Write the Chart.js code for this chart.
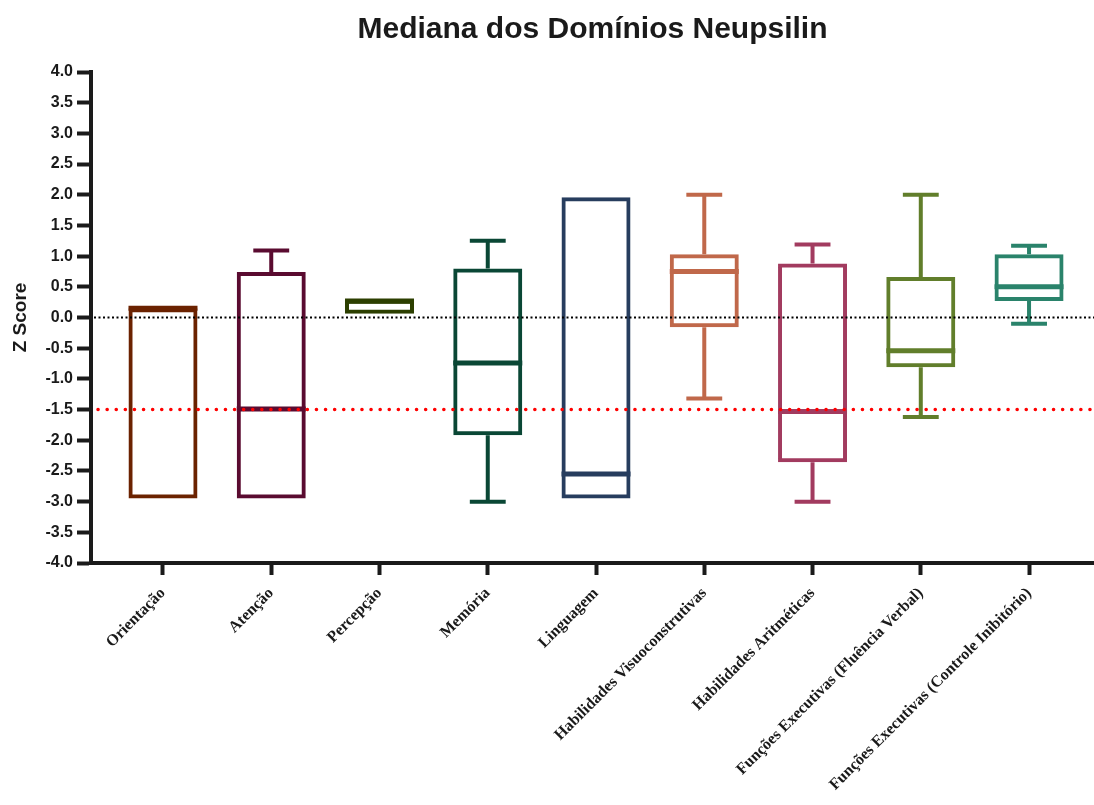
<!DOCTYPE html>
<html>
<head>
<meta charset="utf-8">
<script src="https://cdn.jsdelivr.net/npm/chart.js@4"></script>
<style>
  html, body { margin: 0; padding: 0; background: #fff; }
  #wrap { width: 1094px; height: 805px; }
</style>
</head>
<body>
<div id="wrap"><canvas id="chart" width="1094" height="805"></canvas></div>
<script>
// domains (x categories)
var categories = [
  "Orientação", "Atenção", "Percepção", "Memória", "Linguagem",
  "Habilidades Visuoconstrutivas", "Habilidades Aritméticas",
  "Funções Executivas (Fluência Verbal)", "Funções Executivas (Controle Inibitório)"
];

// box plot values (z scores)
var minVals = [-2.95, -2.95, 0.06, -3.00, -2.95, -1.32, -3.00, -1.62, -0.10];
var q1Vals  = [-2.95, -2.95, 0.06, -1.92, -2.95, -0.16, -2.36, -0.81,  0.27];
var medVals = [ 0.15, -1.49, 0.27, -0.74, -2.55,  0.75, -1.53, -0.54,  0.50];
var q3Vals  = [ 0.15,  0.74, 0.29,  0.80,  1.96,  1.03,  0.88,  0.66,  1.03];
var maxVals = [ 0.15,  1.09, 0.29,  1.25,  1.96,  2.00,  1.19,  2.00,  1.17];

// reference lines
var zeroLine = 0;
var cutLine = -1.5;

var boxColors = ["#6b2200", "#5a0b30", "#2c3f00", "#0a4735", "#273d5e",
                 "#c0684a", "#a23b5f", "#617e2b", "#2a836b"];

var boxData = categories.map(function (c, i) {
  return { x: i, y: [q1Vals[i], q3Vals[i]] };
});

// whiskers, medians and dotted reference lines
var boxPlotExtras = {
  id: "boxPlotExtras",
  afterDatasetsDraw: function (chart) {
    var ctx = chart.ctx;
    var xs = chart.scales.x, ys = chart.scales.y;
    var bars = chart.getDatasetMeta(0).data;
    ctx.save();
    ctx.lineCap = "butt";
    categories.forEach(function (c, i) {
      var cx = xs.getPixelForValue(i);
      var half = bars[i].width / 2;
      var cap = half * 0.52;
      ctx.strokeStyle = boxColors[i];
      ctx.lineWidth = 4;
      // upper whisker
      if (maxVals[i] > q3Vals[i]) {
        ctx.beginPath();
        ctx.moveTo(cx, ys.getPixelForValue(q3Vals[i]));
        ctx.lineTo(cx, ys.getPixelForValue(maxVals[i]));
        ctx.moveTo(cx - cap, ys.getPixelForValue(maxVals[i]));
        ctx.lineTo(cx + cap, ys.getPixelForValue(maxVals[i]));
        ctx.stroke();
      }
      // lower whisker
      if (minVals[i] < q1Vals[i]) {
        ctx.beginPath();
        ctx.moveTo(cx, ys.getPixelForValue(q1Vals[i]));
        ctx.lineTo(cx, ys.getPixelForValue(minVals[i]));
        ctx.moveTo(cx - cap, ys.getPixelForValue(minVals[i]));
        ctx.lineTo(cx + cap, ys.getPixelForValue(minVals[i]));
        ctx.stroke();
      }
      // median
      ctx.lineWidth = 5;
      ctx.beginPath();
      ctx.moveTo(cx - half, ys.getPixelForValue(medVals[i]));
      ctx.lineTo(cx + half, ys.getPixelForValue(medVals[i]));
      ctx.stroke();
    });

    var area = chart.chartArea;
    // zero line, black dotted
    ctx.strokeStyle = "#000";
    ctx.lineWidth = 2;
    ctx.setLineDash([2, 2.5]);
    ctx.beginPath();
    ctx.moveTo(area.left + 3, ys.getPixelForValue(zeroLine));
    ctx.lineTo(area.right, ys.getPixelForValue(zeroLine));
    ctx.stroke();
    // cut-off line, red dotted
    ctx.strokeStyle = "#ff0000";
    ctx.lineWidth = 3.5;
    ctx.lineCap = "round";
    ctx.setLineDash([0.1, 9]);
    ctx.beginPath();
    ctx.moveTo(area.left + 7, ys.getPixelForValue(cutLine));
    ctx.lineTo(area.right, ys.getPixelForValue(cutLine));
    ctx.stroke();
    ctx.restore();
  }
};

var chart = new Chart(document.getElementById("chart"), {
  type: "bar",
  data: {
    datasets: [{
      data: boxData,
      backgroundColor: "rgba(0,0,0,0)",
      borderColor: boxColors,
      borderWidth: 4,
      borderSkipped: false,
      barThickness: 69,
      inflateAmount: 0
    }]
  },
  options: {
    responsive: false,
    animation: false,
    layout: { padding: { left: 0, right: 0, top: 0, bottom: 0 } },
    plugins: {
      legend: { display: false },
      tooltip: { enabled: false },
      title: {
        display: true,
        text: "Mediana dos Domínios Neupsilin",
        fullSize: false,
        color: "#1a1a1a",
        font: { family: "Liberation Sans", size: 30, weight: "bold" },
        padding: { top: 12, bottom: 24 }
      }
    },
    scales: {
      x: {
        type: "linear",
        offset: false,
        min: -0.665,
        max: 8.6,
        afterBuildTicks: function (scale) {
          scale.ticks = categories.map(function (c, i) { return { value: i }; });
        },
        afterFit: function (scale) { scale.height = 242; },
        border: { color: "#1a1a1a", width: 4 },
        grid: { offset: false, drawOnChartArea: false, drawTicks: true, tickLength: 12, tickWidth: 4, tickColor: "#1a1a1a" },
        ticks: {
          autoSkip: false,
          minRotation: 45,
          maxRotation: 45,
          padding: 9,
          color: "#1a1a1a",
          font: { family: "Liberation Serif", size: 16, weight: "bold" },
          callback: function (v) { return categories[v]; }
        }
      },
      y: {
        min: -4,
        max: 4,
        afterFit: function (scale) { scale.width = 91; },
        border: { color: "#1a1a1a", width: 4 },
        grid: { drawOnChartArea: false, drawTicks: true, tickLength: 14, tickWidth: 4, tickColor: "#1a1a1a" },
        ticks: {
          stepSize: 0.5,
          padding: 4,
          color: "#1a1a1a",
          font: { family: "Liberation Sans", size: 16, weight: "bold" },
          callback: function (v) { return v.toFixed(1); }
        },
        title: {
          display: true,
          text: "Z Score",
          color: "#1a1a1a",
          font: { family: "Liberation Sans", size: 19, weight: "bold" },
          padding: { top: 9, bottom: 4 }
        }
      }
    }
  },
  plugins: [boxPlotExtras]
});
</script>
</body>
</html>
